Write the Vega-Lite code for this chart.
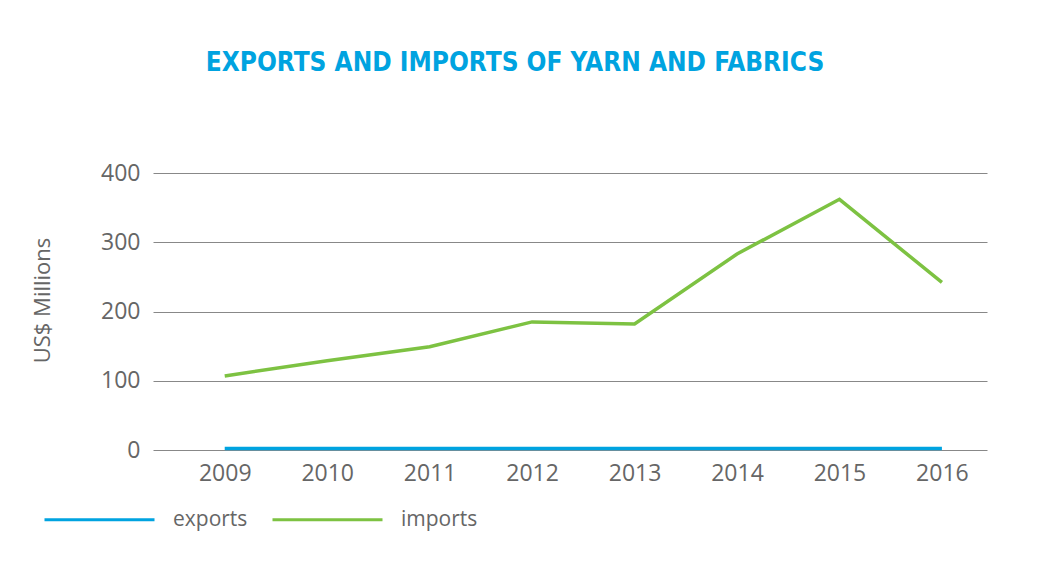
{
  "$schema": "https://vega.github.io/schema/vega-lite/v6.json",
  "autosize": {"type": "none"},
  "padding": {"left": 153, "top": 173, "right": 66, "bottom": 117},
  "width": 834,
  "height": 277,
  "background": "white",
  "title": {
    "text": "EXPORTS AND IMPORTS OF YARN AND FABRICS",
    "font": "DejaVu Sans Condensed",
    "fontWeight": "bold",
    "fontSize": 26,
    "color": "#00A3E0",
    "anchor": "middle",
    "dx": -55,
    "offset": 86
  },
  "data": {
    "values": [
      {"year": 2009, "series": "exports", "value": 2},
      {"year": 2010, "series": "exports", "value": 2},
      {"year": 2011, "series": "exports", "value": 2},
      {"year": 2012, "series": "exports", "value": 2},
      {"year": 2013, "series": "exports", "value": 2},
      {"year": 2014, "series": "exports", "value": 2},
      {"year": 2015, "series": "exports", "value": 2},
      {"year": 2016, "series": "exports", "value": 2},
      {"year": 2009, "series": "imports", "value": 107},
      {"year": 2010, "series": "imports", "value": 129},
      {"year": 2011, "series": "imports", "value": 149},
      {"year": 2012, "series": "imports", "value": 185},
      {"year": 2013, "series": "imports", "value": 182},
      {"year": 2014, "series": "imports", "value": 283},
      {"year": 2015, "series": "imports", "value": 362},
      {"year": 2016, "series": "imports", "value": 242}
    ]
  },
  "mark": {"type": "line", "strokeWidth": 3.5},
  "encoding": {
    "x": {
      "field": "year",
      "type": "quantitative",
      "scale": {"domain": [2008.3, 2016.44], "nice": false, "zero": false},
      "axis": {
        "title": null,
        "values": [2009, 2010, 2011, 2012, 2013, 2014, 2015, 2016],
        "format": "d",
        "grid": false,
        "domain": false,
        "ticks": false,
        "labelFont": "Open Sans",
        "labelFontSize": 23,
        "labelColor": "#666666",
        "labelPadding": 12,
        "labelFlush": false
      }
    },
    "y": {
      "field": "value",
      "type": "quantitative",
      "scale": {"domain": [0, 400], "nice": false},
      "axis": {
        "title": "US$ Millions",
        "values": [0, 100, 200, 300, 400],
        "grid": true,
        "gridColor": "#888888",
        "gridWidth": 1,
        "domain": false,
        "ticks": false,
        "labelFont": "Open Sans",
        "labelFontSize": 23,
        "labelColor": "#666666",
        "labelPadding": 13,
        "titleFont": "Open Sans",
        "titleFontSize": 22,
        "titleFontWeight": "normal",
        "titleColor": "#666666",
        "titleX": -111,
        "titleY": 127,
        "titleAngle": 270,
        "titleBaseline": "middle"
      }
    },
    "color": {
      "field": "series",
      "type": "nominal",
      "scale": {"domain": ["exports", "imports"], "range": ["#00A3E0", "#7DC242"]},
      "legend": {
        "title": null,
        "orient": "none",
        "direction": "horizontal",
        "legendX": -110,
        "legendY": 290,
        "symbolType": "stroke",
        "symbolSize": 12100,
        "symbolStrokeWidth": 3,
        "labelFont": "Open Sans",
        "labelFontSize": 21,
        "labelColor": "#666666",
        "labelOffset": 17,
        "columnPadding": 18
      }
    }
  },
  "config": {"view": {"stroke": null}}
}
